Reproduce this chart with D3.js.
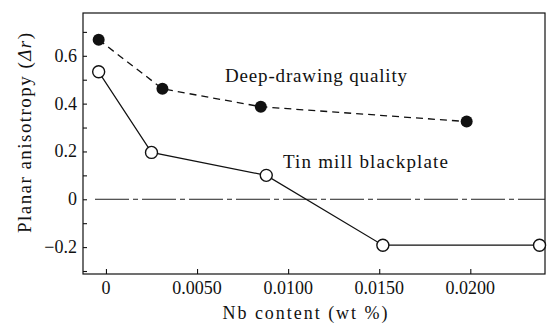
<!DOCTYPE html>
<html>
<head>
<meta charset="utf-8">
<script src="https://cdn.jsdelivr.net/npm/d3@7/dist/d3.min.js"></script>
<style>
	body { margin: 0; background: #fff; }
	text { font-family: "Liberation Serif", "DejaVu Serif", serif; fill: #111; }
</style>
</head>
<body>
<svg id="chart" width="549" height="330"></svg>
<script>
// values
var deepX = [ -0.0004, 0.0031, 0.0085, 0.0198 ],
	deepY = [ 0.667, 0.462, 0.387, 0.325 ];
var tinX = [ -0.0004, 0.0025, 0.0088, 0.0152, 0.0238 ],
	tinY = [ 0.533, 0.196, 0.100, -0.192, -0.192 ];
var xTicks = [ 0, 0.005, 0.010, 0.015, 0.020 ],
	xTickLabels = [ '0', '0.0050', '0.0100', '0.0150', '0.0200' ];
var yTicks = [ -0.2, 0, 0.2, 0.4, 0.6 ],
	yTickLabels = [ '\u22120.2', '0', '0.2', '0.4', '0.6' ],
	yMinor = [ -0.3, -0.1, 0.1, 0.3, 0.5, 0.7 ];

var L = 83, R = 545, T = 13, B = 274;

var x = d3.scaleLinear().domain( [ -0.00126, 0.0241 ] ).range( [ L, R ] ),
	y = d3.scaleLinear().domain( [ -0.3125, 0.779 ] ).range( [ B, T ] );

var svg = d3.select( '#chart' );

// frame
svg.append( 'rect' )
	.attr( 'x', L ).attr( 'y', T )
	.attr( 'width', R - L ).attr( 'height', B - T )
	.attr( 'fill', 'none' )
	.attr( 'stroke', '#111' )
	.attr( 'stroke-width', 1.2 );

// axes with inward ticks
var xAxis = d3.axisTop( x ).tickValues( xTicks ).tickSize( 5 ).tickFormat( '' );
svg.append( 'g' ).attr( 'transform', 'translate(0,' + B + ')' ).call( xAxis );

var yAxis = d3.axisRight( y ).tickValues( yTicks.concat( yMinor ) ).tickSize( 4 ).tickFormat( '' );
svg.append( 'g' ).attr( 'transform', 'translate(' + L + ',0)' ).call( yAxis );

svg.selectAll( '.domain' ).remove();
svg.selectAll( '.tick line' ).attr( 'stroke', '#111' ).attr( 'stroke-width', 1.1 );

// tick labels
svg.selectAll( 'text.xl' ).data( xTicks )
	.enter().append( 'text' )
	.attr( 'class', 'xl' )
	.attr( 'x', function( d ) { return x( d ); } )
	.attr( 'y', 294 )
	.attr( 'text-anchor', 'middle' )
	.style( 'font-size', '18px' )
	.text( function( d, i ) { return xTickLabels[ i ]; } );

svg.selectAll( 'text.yl' ).data( yTicks )
	.enter().append( 'text' )
	.attr( 'class', 'yl' )
	.attr( 'x', 77 )
	.attr( 'y', function( d ) { return y( d ) + 6; } )
	.attr( 'text-anchor', 'end' )
	.style( 'font-size', '18px' )
	.text( function( d, i ) { return yTickLabels[ i ]; } );

// zero line
svg.append( 'line' )
	.attr( 'x1', 95 ).attr( 'x2', R )
	.attr( 'y1', y( 0 ) ).attr( 'y2', y( 0 ) )
	.attr( 'stroke', '#222' )
	.attr( 'stroke-width', 1 )
	.attr( 'stroke-dasharray', '34,4,5,4' );

var line = d3.line()
	.x( function( d ) { return x( d[ 0 ] ); } )
	.y( function( d ) { return y( d[ 1 ] ); } );

var deep = d3.zip( deepX, deepY ),
	tin = d3.zip( tinX, tinY );

svg.append( 'path' ).datum( deep )
	.attr( 'd', line )
	.attr( 'fill', 'none' )
	.attr( 'stroke', '#111' )
	.attr( 'stroke-width', 1.3 )
	.attr( 'stroke-dasharray', '7,5' );

svg.append( 'path' ).datum( tin )
	.attr( 'd', line )
	.attr( 'fill', 'none' )
	.attr( 'stroke', '#111' )
	.attr( 'stroke-width', 1.2 );

svg.selectAll( 'circle.deep' ).data( deep )
	.enter().append( 'circle' )
	.attr( 'class', 'deep' )
	.attr( 'cx', function( d ) { return x( d[ 0 ] ); } )
	.attr( 'cy', function( d ) { return y( d[ 1 ] ); } )
	.attr( 'r', 6 )
	.attr( 'fill', '#111' );

svg.selectAll( 'circle.tin' ).data( tin )
	.enter().append( 'circle' )
	.attr( 'class', 'tin' )
	.attr( 'cx', function( d ) { return x( d[ 0 ] ); } )
	.attr( 'cy', function( d ) { return y( d[ 1 ] ); } )
	.attr( 'r', 6 )
	.attr( 'fill', '#fff' )
	.attr( 'stroke', '#111' )
	.attr( 'stroke-width', 1.4 );

// labels
svg.append( 'text' )
	.attr( 'x', 225 ).attr( 'y', 82 )
	.attr( 'textLength', 182 )
	.style( 'font-size', '19px' )
	.text( 'Deep-drawing quality' );

svg.append( 'text' )
	.attr( 'x', 283 ).attr( 'y', 168 )
	.attr( 'textLength', 165 )
	.style( 'font-size', '19px' )
	.text( 'Tin mill blackplate' );

svg.append( 'text' )
	.attr( 'x', 305 ).attr( 'y', 319 )
	.attr( 'text-anchor', 'middle' )
	.attr( 'textLength', 165 )
	.style( 'font-size', '18px' )
	.text( 'Nb content (wt %)' );

var yl = svg.append( 'text' )
	.attr( 'transform', 'translate(31,133) rotate(-90)' )
	.attr( 'text-anchor', 'middle' )
	.attr( 'textLength', 200 )
	.style( 'font-size', '19px' );
yl.append( 'tspan' ).text( 'Planar anisotropy (' );
yl.append( 'tspan' ).style( 'font-style', 'italic' ).text( '\u0394r' );
yl.append( 'tspan' ).text( ')' );
</script>
</body>
</html>
